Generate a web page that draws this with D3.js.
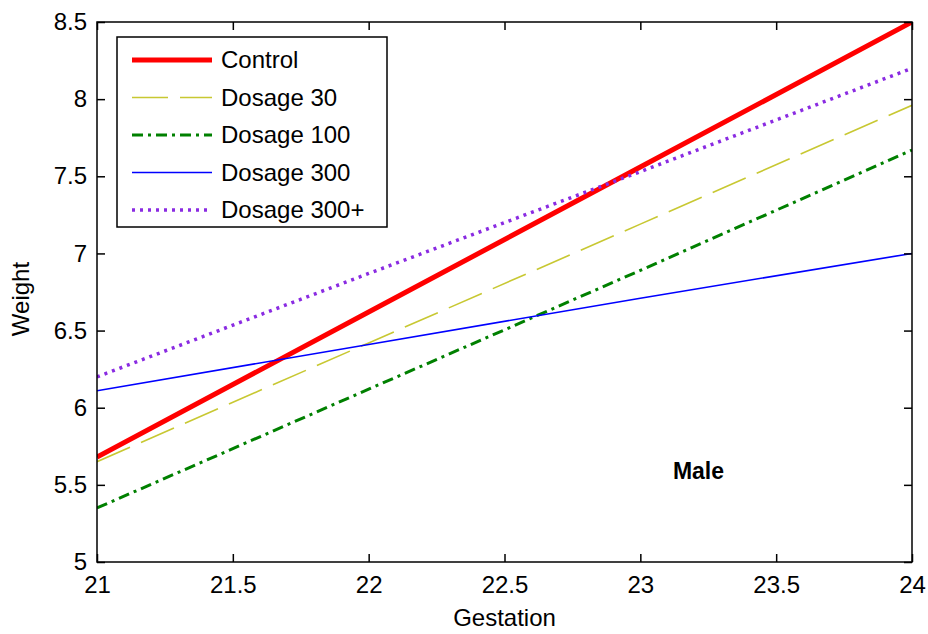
<!DOCTYPE html>
<html><head><meta charset="utf-8">
<script src="https://cdn.jsdelivr.net/npm/d3@7"></script>
<style>body{margin:0;background:#fff}svg{display:block}text{font-family:"Liberation Sans",Arial,sans-serif}</style>
</head><body><svg id="c" width="928" height="634"></svg>
<script>
const gestation = [21, 22, 23, 24];
const control   = [5.68, 6.62, 7.56, 8.50];
const dosage30  = [5.65, 6.42, 7.19, 7.96];
const dosage100 = [5.35, 6.12, 6.89, 7.67];
const dosage300 = [6.11, 6.41, 6.71, 7.00];
const dosage300p= [6.20, 6.87, 7.53, 8.20];
const seriesNames = ["Control","Dosage 30","Dosage 100","Dosage 300","Dosage 300+"];
const xTicks = [21,21.5,22,22.5,23,23.5,24];
const yTicks = [5,5.5,6,6.5,7,7.5,8,8.5];

const styles = [
  {color:"#ff0000", w:5, dash:null},
  {color:"#c8c832", w:1.6, dash:"36,12"},
  {color:"#008000", w:3, dash:"11,5,3,5"},
  {color:"#0000ff", w:1.6, dash:null},
  {color:"#8a2be2", w:3.5, dash:"3,5"}
];
const values = [control, dosage30, dosage100, dosage300, dosage300p];

const svg = d3.select("#c");
const L=97, R=912, T=22, B=562;
const x = d3.scaleLinear().domain([21,24]).range([L,R]);
const y = d3.scaleLinear().domain([5,8.5]).range([B,T]);

svg.append("defs").append("clipPath").attr("id","clip")
  .append("rect").attr("x",L).attr("y",T).attr("width",R-L).attr("height",B-T);

const line = d3.line().x(d=>x(d[0])).y(d=>y(d[1]));
const g = svg.append("g").attr("clip-path","url(#clip)");
values.forEach((v,i)=>{
  const s = styles[i];
  g.append("path").datum(gestation.map((gv,j)=>[gv,v[j]]))
    .attr("d",line).attr("fill","none").attr("stroke",s.color)
    .attr("stroke-width",s.w).attr("stroke-dasharray",s.dash);
});

// axes with inward ticks
const fs = 24;
const ax = svg.append("g").attr("transform",`translate(0,${B})`)
  .call(d3.axisBottom(x).tickValues(xTicks).tickSizeInner(-8).tickSizeOuter(0).tickPadding(14).tickFormat(d3.format("")));
const ay = svg.append("g").attr("transform",`translate(${L},0)`)
  .call(d3.axisLeft(y).tickValues(yTicks).tickSizeInner(-8).tickSizeOuter(0).tickPadding(10).tickFormat(d3.format("")));
const axT = svg.append("g").attr("transform",`translate(0,${T})`)
  .call(d3.axisTop(x).tickValues(xTicks).tickSizeInner(-8).tickSizeOuter(0).tickFormat(""));
const ayR = svg.append("g").attr("transform",`translate(${R},0)`)
  .call(d3.axisRight(y).tickValues(yTicks).tickSizeInner(-8).tickSizeOuter(0).tickFormat(""));
[ax,ay,axT,ayR].forEach(a=>{
  a.selectAll(".domain").remove();
  a.selectAll("line").attr("stroke","#000").attr("stroke-width",1.5);
  a.selectAll("text").attr("font-size",fs).attr("fill","#000").attr("font-family","'Liberation Sans',Arial,sans-serif");
});
ax.selectAll("text").attr("dy","0.71em");
svg.append("rect").attr("x",L).attr("y",T).attr("width",R-L).attr("height",B-T)
  .attr("fill","none").attr("stroke","#000").attr("stroke-width",1.5);

svg.append("text").attr("x",(L+R)/2).attr("y",626).attr("text-anchor","middle")
  .attr("font-size",fs).text("Gestation");
svg.append("text").attr("transform",`translate(29,299) rotate(-90)`).attr("text-anchor","middle")
  .attr("font-size",fs).text("Weight");
svg.append("text").attr("x",x(23.12)).attr("y",y(5.54)).attr("font-size",23).attr("font-weight","bold").text("Male");

// legend
const lg = svg.append("g");
lg.append("rect").attr("x",117).attr("y",37).attr("width",270).attr("height",190)
  .attr("fill","#fff").attr("stroke","#000").attr("stroke-width",1.5);
const ly = d3.scalePoint().domain(seriesNames).range([60,210]);
seriesNames.forEach((n,i)=>{
  const s = styles[i];
  lg.append("line").attr("x1",132).attr("x2",212).attr("y1",ly(n)).attr("y2",ly(n))
    .attr("stroke",s.color).attr("stroke-width",s.w).attr("stroke-dasharray",s.dash);
  lg.append("text").attr("x",221).attr("y",ly(n)).attr("dy","0.35em").attr("font-size",fs).text(n);
});
</script></body></html>
